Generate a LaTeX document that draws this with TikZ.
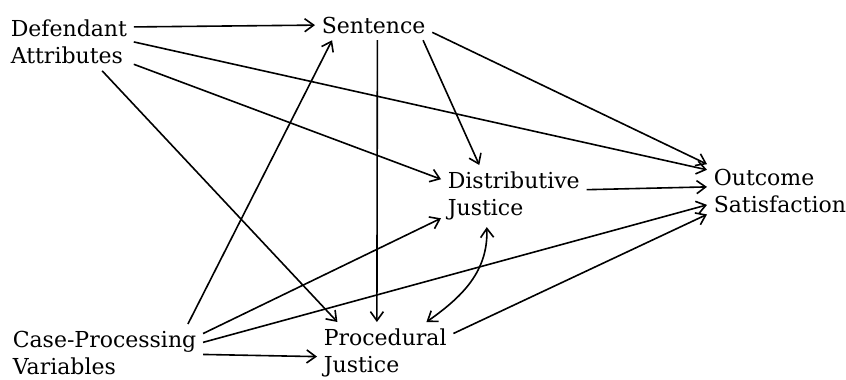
\documentclass[tikz,border=0pt]{standalone}
\usepackage{fontspec}
\setmainfont{DejaVu Serif}
\usetikzlibrary{arrows.meta}

\begin{document}
\begin{tikzpicture}[x=0.5pt, y=-0.5pt, line width=0.8pt,
  >={Straight Barb[length=4.5pt,width=6.5pt]},
  var/.style={anchor=north west, align=left, inner sep=3pt, font=\fontsize{11}{13.6}\selectfont}]
  \useasboundingbox (0,0) rectangle (846,380);
  \node[var] (def) at (4,13) {Defendant\\Attributes};
  \node[var] (sen) at (315,10) {Sentence};
  \node[var] (dist) at (441,165) {Distributive\\Justice};
  \node[var] (out) at (707,162) {Outcome\\Satisfaction};
  \node[var] (case) at (6,324) {Case-Processing\\Variables};
  \node[var] (proc) at (317,322) {Procedural\\Justice};

  \draw[->] (def.13) -- (sen.west);
  \draw[->] (def.east) -- (out.164);
  \draw[->] (def.-19) -- (dist.167);
  \draw[->] (def.-41) -- (proc.147);
  \draw[->] (sen.-76) -- (proc.105);
  \draw[->] (sen.-17) -- (dist.138);
  \draw[->] (sen.-7) -- (out.160);
  \draw[->] (dist.5) -- (out.177);
  \draw[->] (case.19) -- (sen.200);
  \draw[->] (case.11) -- (dist.197);
  \draw[->] (case.6) -- (out.191);
  \draw[->] (case.-1) -- (proc.183);
  \draw[->] (proc.16) -- (out.198);
  \draw[<->] (dist.-131) to[out=-88, in=35] (proc.37);
\end{tikzpicture}
\end{document}
